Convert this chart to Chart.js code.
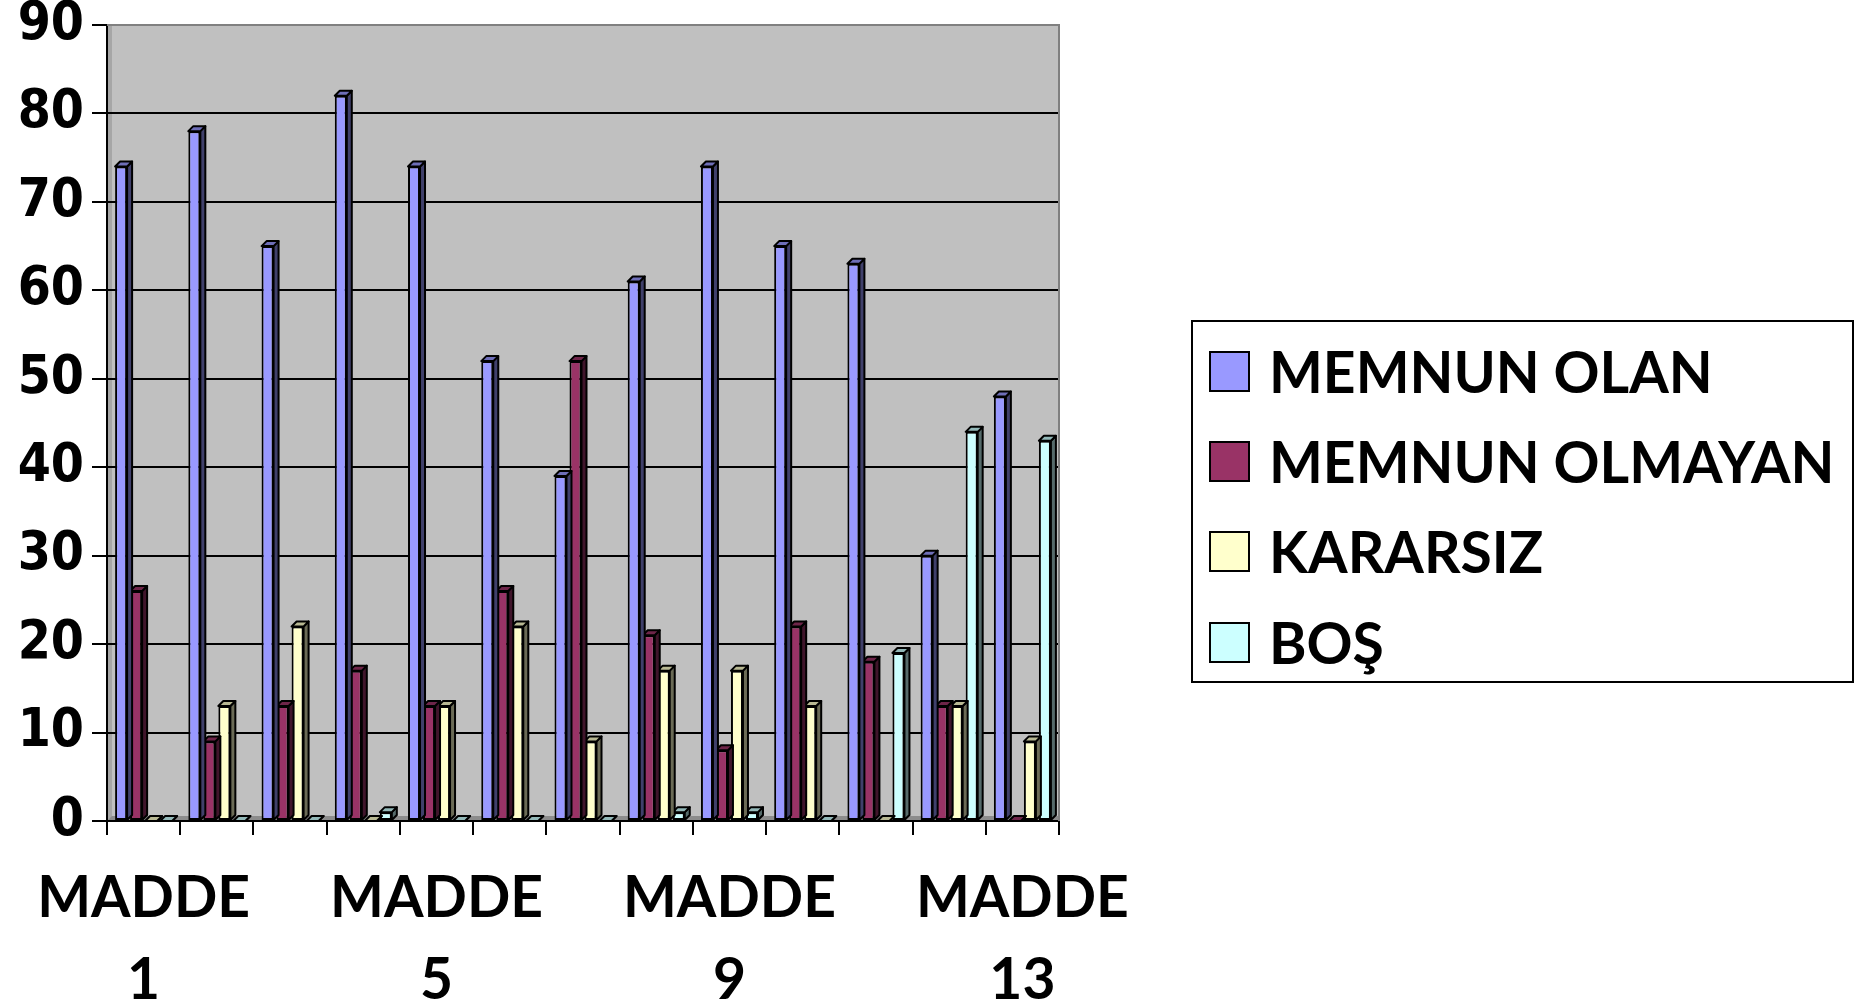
<!DOCTYPE html>
<html>
<head>
<meta charset="utf-8">
<script src="https://cdn.jsdelivr.net/npm/chart.js@4.4.1/dist/chart.umd.min.js"></script>
<style>
  html, body { margin: 0; padding: 0; background: #fff; overflow: hidden; }
  #wrap { position: relative; width: 1872px; height: 1007px; }
  #legend {
    position: absolute; left: 1191px; top: 320px; width: 663px; height: 363px;
    border: 2px solid #000; box-sizing: border-box;
    font-family: Lato, sans-serif; font-weight: bold; font-size: 57px; color: #000;
  }
  .item { position: absolute; left: 16px; height: 60px; display: flex; align-items: center; white-space: nowrap; }
  .sw { width: 37px; height: 37px; border: 2px solid #000; margin-right: 19px; flex: none; }
</style>
</head>
<body>
<div id="wrap">
  <canvas id="chart" width="1872" height="1007"></canvas>
  <div id="legend"></div>
</div>
<script>
// Data
const categories = ["MADDE 1", "MADDE 2", "MADDE 3", "MADDE 4", "MADDE 5", "MADDE 6", "MADDE 7",
  "MADDE 8", "MADDE 9", "MADDE 10", "MADDE 11", "MADDE 12", "MADDE 13"];
const memnunOlan    = [74, 78, 65, 82, 74, 52, 39, 61, 74, 65, 63, 30, 48];
const memnunOlmayan = [26, 9, 13, 17, 13, 26, 52, 21, 8, 22, 18, 13, 0];
const kararsiz      = [0, 13, 22, 0, 13, 22, 9, 17, 17, 13, 0, 13, 9];
const bos           = [0, 0, 0, 1, 0, 0, 0, 1, 1, 0, 19, 44, 43];
const yMin = 0, yMax = 90, yStep = 10;

const depth = 5;

// darken a #rrggbb colour
function shade(hex, f) {
  const n = parseInt(hex.slice(1), 16);
  const r = Math.round(((n >> 16) & 255) * f);
  const g = Math.round(((n >> 8) & 255) * f);
  const b = Math.round((n & 255) * f);
  return `rgb(${r},${g},${b})`;
}

// grey plot wall + floor
const plotBackground = {
  id: "plotBackground",
  beforeDraw(chart) {
    const { ctx, chartArea: a } = chart;
    ctx.save();
    ctx.fillStyle = "#C0C0C0";
    ctx.fillRect(a.left, a.top, a.right - a.left, a.bottom - a.top);
    // left wall
    ctx.fillStyle = "#A6A6A6";
    ctx.fillRect(a.left, a.top, depth, a.bottom - a.top);
    // floor
    ctx.beginPath();
    ctx.moveTo(a.left, a.bottom);
    ctx.lineTo(a.left + depth, a.bottom - depth);
    ctx.lineTo(a.right, a.bottom - depth);
    ctx.lineTo(a.right, a.bottom);
    ctx.closePath();
    ctx.fillStyle = "#8C8C8C";
    ctx.fill();
    ctx.restore();
  },
  afterDraw(chart) {
    const { ctx, chartArea: a } = chart;
    ctx.save();
    ctx.strokeStyle = "#808080";
    ctx.lineWidth = 2;
    ctx.beginPath();
    ctx.moveTo(a.left, a.top);
    ctx.lineTo(a.right, a.top);
    ctx.lineTo(a.right, a.bottom);
    ctx.stroke();
    ctx.restore();
  }
};

// top and side faces on each bar
const bars3d = {
  id: "bars3d",
  afterDatasetDraw(chart, args) {
    const ds = chart.data.datasets[args.index];
    const ctx = chart.ctx;
    args.meta.data.forEach((bar) => {
      const { x, y, base, width } = bar.getProps(["x", "y", "base", "width"], true);
      const l = x - width / 2, r = x + width / 2;
      ctx.save();
      ctx.lineWidth = 2;
      ctx.strokeStyle = "#000";
      ctx.lineJoin = "round";
      ctx.beginPath();
      ctx.moveTo(r, y);
      ctx.lineTo(r + depth, y - depth);
      ctx.lineTo(r + depth, base - depth);
      ctx.lineTo(r, base);
      ctx.closePath();
      ctx.fillStyle = shade(ds.backgroundColor, 0.42);
      ctx.fill();
      ctx.stroke();
      ctx.beginPath();
      ctx.moveTo(l, y);
      ctx.lineTo(l + depth, y - depth);
      ctx.lineTo(r + depth, y - depth);
      ctx.lineTo(r, y);
      ctx.closePath();
      ctx.fillStyle = shade(ds.backgroundColor, 0.72);
      ctx.fill();
      ctx.stroke();
      ctx.restore();
    });
  }
};

function makeSet(label, data, color) {
  return {
    label,
    data,
    backgroundColor: color,
    borderColor: "#000",
    borderWidth: 2,
    borderSkipped: false,
    categoryPercentage: 0.82,
    barPercentage: 0.8,
  };
}

const ctx = document.getElementById("chart").getContext("2d");
const chart = new Chart(ctx, {
  type: "bar",
  data: {
    labels: categories,
    datasets: [
      makeSet("MEMNUN OLAN", memnunOlan, "#9999FF"),
      makeSet("MEMNUN OLMAYAN", memnunOlmayan, "#993366"),
      makeSet("KARARSIZ", kararsiz, "#FFFFCC"),
      makeSet("BOŞ", bos, "#CCFFFF"),
    ],
  },
  options: {
    responsive: false,
    devicePixelRatio: 1,
    animation: false,
    layout: { padding: { left: 0, right: 813, top: 25, bottom: 0 } },
    plugins: {
      legend: { display: false },
      tooltip: { enabled: false },
    },
    scales: {
      x: {
        grid: {
          offset: true,
          drawOnChartArea: false,
          drawTicks: true,
          tickLength: 14,
          color: "#000",
          lineWidth: 2,
        },
        border: { color: "#000", width: 2 },
        ticks: {
          autoSkip: false,
          maxRotation: 0,
          padding: 22,
          color: "#000",
          font: { family: "Lato", weight: "bold", size: 57, lineHeight: 1.45 },
          callback: function (value, index) {
            if (index % 4 !== 0) return "";
            return categories[index].split(" ");
          },
        },
        afterFit(scale) {
          scale.height = 186;
          scale.paddingLeft = 0;
          scale.paddingRight = 0;
        },
      },
      y: {
        min: yMin,
        max: yMax,
        grid: {
          color: (c) => (c.tick && c.tick.value === yMax ? "rgba(0,0,0,0)" : "#000"),
          tickColor: "#000",
          lineWidth: 2,
          tickLength: 15,
        },
        border: { color: "#000", width: 2 },
        ticks: {
          stepSize: yStep,
          padding: 8,
          color: "#000",
          font: { family: "DejaVu Sans Condensed", weight: "bold", size: 53, lineHeight: 1 },
        },
        afterFit(scale) {
          scale.width = 107;
          scale.paddingTop = 0;
          scale.paddingBottom = 0;
        },
      },
    },
  },
  plugins: [plotBackground, bars3d],
});

// Legend from the datasets
const legendEl = document.getElementById("legend");
const rowCenters = [49, 139, 229, 320];
chart.data.datasets.forEach((ds, i) => {
  const item = document.createElement("div");
  item.className = "item";
  item.style.top = rowCenters[i] - 30 + "px";
  item.innerHTML = `<span class="sw" style="background:${ds.backgroundColor}"></span><span>${ds.label}</span>`;
  legendEl.appendChild(item);
});
</script>
</body>
</html>
